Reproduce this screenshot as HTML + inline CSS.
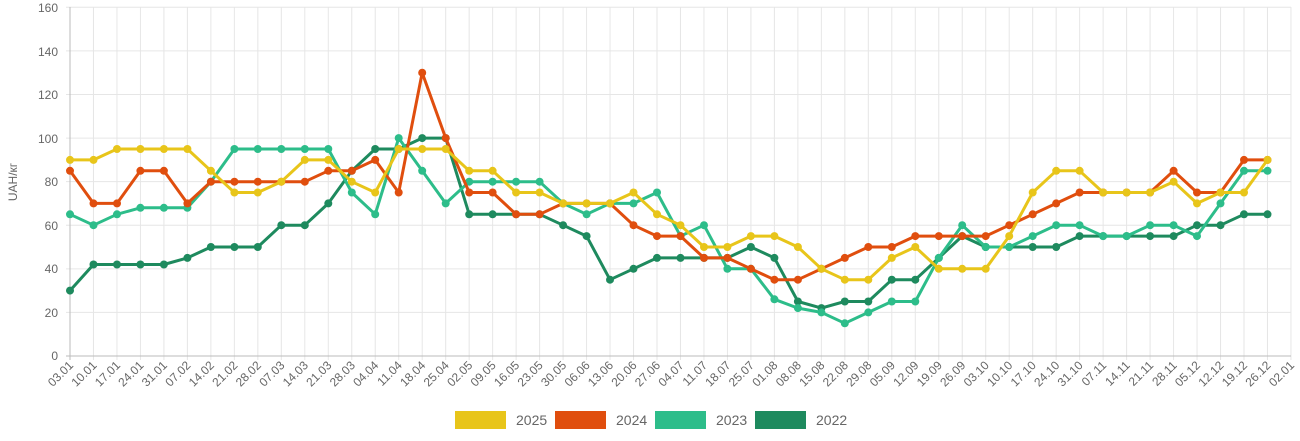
<!DOCTYPE html>
<html><head><meta charset="utf-8"><style>
html,body{margin:0;padding:0;background:#fff;}
svg{display:block;font-family:"Liberation Sans",sans-serif;}
</style></head><body>
<svg id="c" width="1300" height="441" viewBox="0 0 1300 441">
<g id="grid"></g>
<g fill="#666" font-size="12" text-anchor="end">
<text x="58" y="12">160</text><text x="58" y="56">140</text><text x="58" y="99">120</text><text x="58" y="143">100</text><text x="58" y="186">80</text><text x="58" y="230">60</text><text x="58" y="273">40</text><text x="58" y="317">20</text><text x="58" y="360">0</text>
</g>
<text transform="translate(17,182) rotate(-90)" fill="#666" font-size="12" text-anchor="middle">UAH/кг</text>
<g id="xl" fill="#666" font-size="12" text-anchor="end">
<text transform="translate(74,366) rotate(-45)">03.01</text>
<text transform="translate(97.5,366) rotate(-45)">10.01</text>
<text transform="translate(121,366) rotate(-45)">17.01</text>
<text transform="translate(144.4,366) rotate(-45)">24.01</text>
<text transform="translate(167.9,366) rotate(-45)">31.01</text>
<text transform="translate(191.4,366) rotate(-45)">07.02</text>
<text transform="translate(214.9,366) rotate(-45)">14.02</text>
<text transform="translate(238.4,366) rotate(-45)">21.02</text>
<text transform="translate(261.8,366) rotate(-45)">28.02</text>
<text transform="translate(285.3,366) rotate(-45)">07.03</text>
<text transform="translate(308.8,366) rotate(-45)">14.03</text>
<text transform="translate(332.3,366) rotate(-45)">21.03</text>
<text transform="translate(355.8,366) rotate(-45)">28.03</text>
<text transform="translate(379.2,366) rotate(-45)">04.04</text>
<text transform="translate(402.7,366) rotate(-45)">11.04</text>
<text transform="translate(426.2,366) rotate(-45)">18.04</text>
<text transform="translate(449.7,366) rotate(-45)">25.04</text>
<text transform="translate(473.2,366) rotate(-45)">02.05</text>
<text transform="translate(496.6,366) rotate(-45)">09.05</text>
<text transform="translate(520.1,366) rotate(-45)">16.05</text>
<text transform="translate(543.6,366) rotate(-45)">23.05</text>
<text transform="translate(567.1,366) rotate(-45)">30.05</text>
<text transform="translate(590.6,366) rotate(-45)">06.06</text>
<text transform="translate(614,366) rotate(-45)">13.06</text>
<text transform="translate(637.5,366) rotate(-45)">20.06</text>
<text transform="translate(661,366) rotate(-45)">27.06</text>
<text transform="translate(684.5,366) rotate(-45)">04.07</text>
<text transform="translate(708,366) rotate(-45)">11.07</text>
<text transform="translate(731.4,366) rotate(-45)">18.07</text>
<text transform="translate(754.9,366) rotate(-45)">25.07</text>
<text transform="translate(778.4,366) rotate(-45)">01.08</text>
<text transform="translate(801.9,366) rotate(-45)">08.08</text>
<text transform="translate(825.4,366) rotate(-45)">15.08</text>
<text transform="translate(848.8,366) rotate(-45)">22.08</text>
<text transform="translate(872.3,366) rotate(-45)">29.08</text>
<text transform="translate(895.8,366) rotate(-45)">05.09</text>
<text transform="translate(919.3,366) rotate(-45)">12.09</text>
<text transform="translate(942.8,366) rotate(-45)">19.09</text>
<text transform="translate(966.2,366) rotate(-45)">26.09</text>
<text transform="translate(989.7,366) rotate(-45)">03.10</text>
<text transform="translate(1013.2,366) rotate(-45)">10.10</text>
<text transform="translate(1036.7,366) rotate(-45)">17.10</text>
<text transform="translate(1060.2,366) rotate(-45)">24.10</text>
<text transform="translate(1083.6,366) rotate(-45)">31.10</text>
<text transform="translate(1107.1,366) rotate(-45)">07.11</text>
<text transform="translate(1130.6,366) rotate(-45)">14.11</text>
<text transform="translate(1154.1,366) rotate(-45)">21.11</text>
<text transform="translate(1177.6,366) rotate(-45)">28.11</text>
<text transform="translate(1201,366) rotate(-45)">05.12</text>
<text transform="translate(1224.5,366) rotate(-45)">12.12</text>
<text transform="translate(1248,366) rotate(-45)">19.12</text>
<text transform="translate(1271.5,366) rotate(-45)">26.12</text>
<text transform="translate(1295,366) rotate(-45)">02.01</text>
</g>
<g id="series"></g>
<g font-size="14" fill="#666">
<rect x="455" y="411" width="51" height="18" fill="#e8c51a"/><text x="516" y="425">2025</text>
<rect x="555" y="411" width="51" height="18" fill="#e04e0e"/><text x="616" y="425">2024</text>
<rect x="655" y="411" width="51" height="18" fill="#2dbd8a"/><text x="716" y="425">2023</text>
<rect x="755" y="411" width="51" height="18" fill="#1e8a5e"/><text x="816" y="425">2022</text>
</g>
</svg>
<script>
var NS="http://www.w3.org/2000/svg";
function X(i){return 70+i*23.48;}
function Y(v){return 356-v*(348.7/160);}
var g=document.getElementById("grid"),s="";
for(var i=0;i<=52;i++){s+='<line x1="'+X(i)+'" y1="7" x2="'+X(i)+'" y2="360" stroke="#e6e6e6" stroke-width="1"/>';}
for(var v=20;v<=160;v+=20){s+='<line x1="66" y1="'+Y(v)+'" x2="1291" y2="'+Y(v)+'" stroke="#e6e6e6" stroke-width="1"/>';}
s+='<line x1="66" y1="356" x2="1291" y2="356" stroke="#bbb" stroke-width="1"/>';
s+='<line x1="70" y1="7" x2="70" y2="360" stroke="#bbb" stroke-width="1"/>';
g.innerHTML=s;
var data=[
["#1e8a5e",[30,42,42,42,42,45,50,50,50,60,60,70,85,95,95,100,100,65,65,65,65,60,55,35,40,45,45,45,45,50,45,25,22,25,25,35,35,45,55,50,50,50,50,55,55,55,55,55,60,60,65,65]],
["#2dbd8a",[65,60,65,68,68,68,80,95,95,95,95,95,75,65,100,85,70,80,80,80,80,70,65,70,70,75,55,60,40,40,26,22,20,15,20,25,25,45,60,50,50,55,60,60,55,55,60,60,55,70,85,85]],
["#e04e0e",[85,70,70,85,85,70,80,80,80,80,80,85,85,90,75,130,100,75,75,65,65,70,70,70,60,55,55,45,45,40,35,35,40,45,50,50,55,55,55,55,60,65,70,75,75,75,75,85,75,75,90,90]],
["#e8c51a",[90,90,95,95,95,95,85,75,75,80,90,90,80,75,95,95,95,85,85,75,75,70,70,70,75,65,60,50,50,55,55,50,40,35,35,45,50,40,40,40,55,75,85,85,75,75,75,80,70,75,75,90]]
];
var o="";
data.forEach(function(d){
 var p=d[1].map(function(v,i){return X(i).toFixed(1)+","+Y(v).toFixed(1);}).join(" ");
 o+='<polyline points="'+p+'" fill="none" stroke="'+d[0]+'" stroke-width="3" stroke-linejoin="round"/>';
 d[1].forEach(function(v,i){o+='<circle cx="'+X(i).toFixed(1)+'" cy="'+Y(v).toFixed(1)+'" r="4" fill="'+d[0]+'"/>';});
});
document.getElementById("series").innerHTML=o;
</script>
</body></html>
